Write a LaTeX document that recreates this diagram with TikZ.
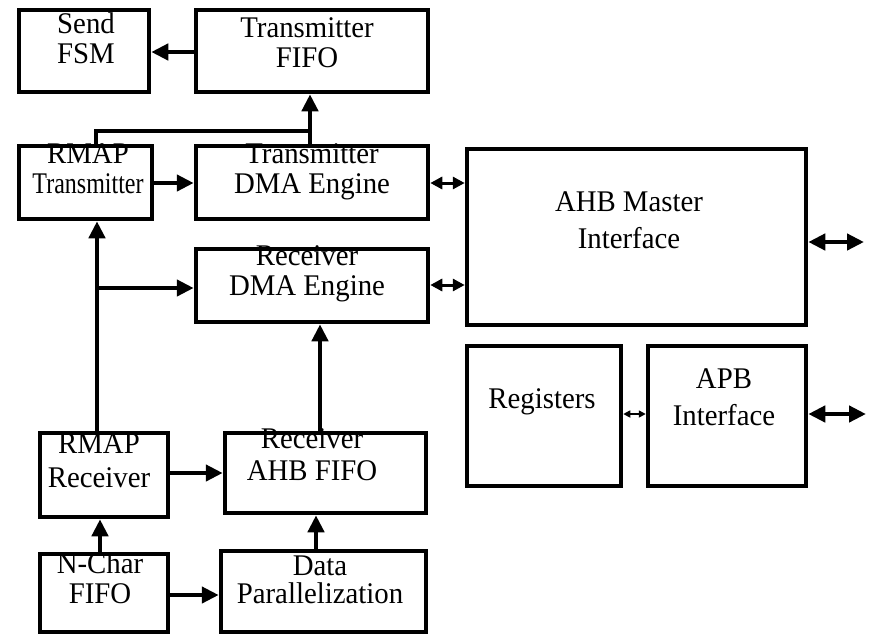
\documentclass[tikz,border=0pt]{standalone}
\usepackage{fontspec}
\setmainfont{Liberation Serif}[FakeStretch=0.96]
\newfontfamily\narrowfont{Liberation Serif}[FakeStretch=0.8]
\usetikzlibrary{arrows.meta}
\begin{document}
\begin{tikzpicture}[x=1pt,y=-1pt,
  box/.style={draw=black, line width=4.5pt, rectangle, inner sep=0pt},
  txt/.style={inner sep=0pt, align=center, anchor=base, font=\fontsize{30}{30}\selectfont},
  wire/.style={line width=4.5pt, line join=miter},
  conn/.style={line width=4.5pt, -{Triangle[length=17pt,width=16pt]}},
  dbl/.style={line width=3pt, {Triangle[length=12pt,width=12pt]}-{Triangle[length=12pt,width=12pt]}},
  dblbig/.style={line width=4.5pt, {Triangle[length=17pt,width=16pt]}-{Triangle[length=17pt,width=16pt]}},
  dblsmall/.style={line width=1.6pt, {Triangle[length=7pt,width=7pt]}-{Triangle[length=7pt,width=7pt]}}]
\path[fill=white] (0,0) rectangle (872,635);
\useasboundingbox (0,0) rectangle (872,635);
% boxes
\node[box, minimum width=130, minimum height=82] (sendfsm) at (84,51) {};
\node[box, minimum width=232, minimum height=82] (txfifo) at (312,51) {};
\node[box, minimum width=133, minimum height=73] (rmaptx) at (85.5,182.5) {};
\node[box, minimum width=232, minimum height=73] (txdma) at (312,182.5) {};
\node[box, minimum width=232, minimum height=73] (rxdma) at (312,285.5) {};
\node[box, minimum width=339, minimum height=176] (ahb) at (636.5,237) {};
\node[box, minimum width=154, minimum height=140] (reg) at (544,416) {};
\node[box, minimum width=158, minimum height=140] (apb) at (727,416) {};
\node[box, minimum width=128, minimum height=84] (rmaprx) at (104,475) {};
\node[box, minimum width=201, minimum height=80] (rxfifo) at (325.5,473) {};
\node[box, minimum width=128, minimum height=78] (nchar) at (104,593) {};
\node[box, minimum width=205, minimum height=81] (datapar) at (323.5,591.5) {};
% texts (anchor = baseline of last line)
\node[txt] (tsend) at (86,63) {Send\\FSM};
\node[txt] (ttxfifo) at (307,67) {Transmitter\\FIFO};
\node[txt] (trmaptx) at (88,193) {RMAP\\{\narrowfont Transmitter}};
\node[txt] (ttxdma) at (312,193) {Transmitter\\DMA Engine};
\node[txt] (trxdma) at (307,295) {Receiver\\DMA Engine};
\node[txt, font=\fontsize{30}{37}\selectfont] (tahb) at (629,248) {AHB Master\\Interface};
\node[txt] (treg) at (542,408) {Registers};
\node[txt, font=\fontsize{30}{37}\selectfont] (tapb) at (724,425) {APB\\Interface};
\node[txt, font=\fontsize{30}{34}\selectfont] (trmaprx) at (99,487) {RMAP\\Receiver};
\node[txt, font=\fontsize{30}{32}\selectfont] (trxfifo) at (312,480) {Receiver\\AHB FIFO};
\node[txt] (tnchar) at (100,603) {N-Char\\FIFO};
\node[txt, font=\fontsize{30}{28}\selectfont] (tdatapar) at (320,603) {Data\\Parallelization};
% junction coordinates
\coordinate (jtx) at (310,131);
\coordinate (jrx) at (97,288);
\coordinate (ahbout) at (864,242);
\coordinate (apbout) at (866,414);
% connectors
\draw[conn] (txfifo.west |- 0,52) -- (sendfsm.east |- 0,52);
\draw[conn] (txdma.north -| jtx) -- (txfifo.south -| jtx);
\draw[wire] (rmaptx.north -| 96,0) |- (jtx);
\draw[conn] (rmaptx.east |- 0,183) -- (txdma.west |- 0,183);
\draw[conn] (rmaprx.north -| jrx) -- (rmaptx.south -| jrx);
\draw[conn] (jrx) -- (rxdma.west |- jrx);
\draw[conn] (rxfifo.north -| 320,0) -- (rxdma.south -| 320,0);
\draw[conn] (rmaprx.east |- 0,473) -- (rxfifo.west |- 0,473);
\draw[conn] (nchar.north -| 100,0) -- (rmaprx.south -| 100,0);
\draw[conn] (nchar.east |- 0,595) -- (datapar.west |- 0,595);
\draw[conn] (datapar.north -| 316,0) -- (rxfifo.south -| 316,0);
\draw[dbl] (txdma.east |- 0,183) -- (ahb.west |- 0,183);
\draw[dbl] (rxdma.east |- 0,285) -- (ahb.west |- 0,285);
\draw[dblbig] (ahb.east |- ahbout) -- (ahbout);
\draw[dblsmall] (reg.east |- 0,414) -- (apb.west |- 0,414);
\draw[dblbig] (apb.east |- apbout) -- (apbout);
\end{tikzpicture}
\end{document}
